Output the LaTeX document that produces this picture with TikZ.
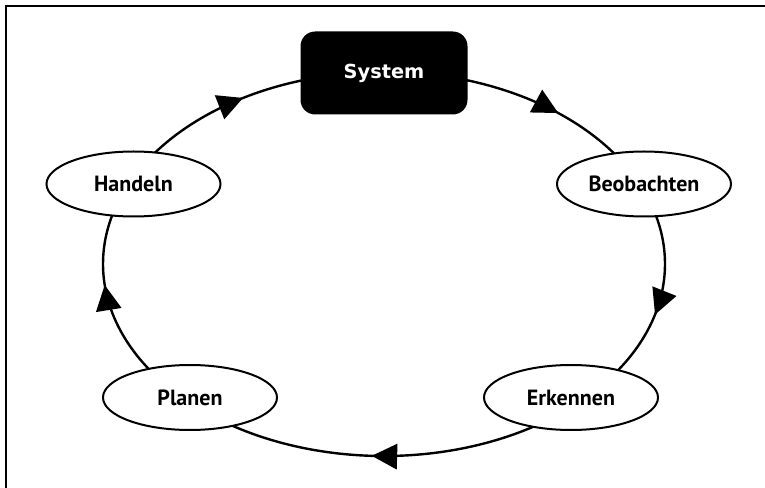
\documentclass[tikz,border=0pt]{standalone}
\usepackage{fontspec}
\setmainfont{PT Sans}
\newfontfamily\sysfont{DejaVu Sans}
\usetikzlibrary{shapes.geometric,arrows.meta,decorations.markings,backgrounds}
\begin{document}
\begin{tikzpicture}[x=0.75pt,y=0.75pt,
  stage/.style={ellipse, draw, line width=1.5pt, fill=white, inner sep=0pt,
    minimum width=130.5pt, minimum height=48.75pt,
    font=\bfseries\fontsize{16.5}{19}\selectfont},
  sysbox/.style={rectangle, rounded corners=11pt, fill=black, text=white,
    inner sep=0pt, minimum width=125.25pt, minimum height=62.25pt,
    font=\sysfont\bfseries\fontsize{14.5}{17}\selectfont},
  flow/.style={line width=1.8pt, postaction={decorate},
    decoration={markings, mark=at position #1 with {\arrow{Triangle[length=19pt,width=19pt]}}}},
  frameline/.style={line width=0.9pt}
]
\useasboundingbox (0,0) rectangle (765,-488);
\draw[frameline] (6,-488) -- (6,-6) -- (765,-6);

\node[sysbox] (sys) at (384,-73) {System};
\node[stage] (beo) at (644,-184) {Beobachten};
\node[stage] (erk) at (571,-397.5) {Erkennen};
\node[stage] (pla) at (190,-397.5) {Planen};
\node[stage] (han) at (133.5,-184) {Handeln};

\begin{scope}[on background layer]
\draw[flow=0.62] ([yshift=1]sys.center) arc[start angle=90, end angle=24, x radius=281, y radius=192];
\draw[flow=0.53] ([shift={(-3.3,-1.9)}]beo.center) arc[start angle=24, end angle=-46.5, x radius=281, y radius=192];
\draw[flow=0.53] ([shift={(6.4,-5.8)}]erk.center) arc[start angle=313.5, end angle=226.5, x radius=281, y radius=192];
\draw[flow=0.583] ([shift={(0.6,-5.8)}]pla.center) arc[start angle=226.5, end angle=155, x radius=281, y radius=192];
\draw[flow=0.50] ([shift={(-4.2,1.1)}]han.center) arc[start angle=155, end angle=90, x radius=281, y radius=192];
\end{scope}
\end{tikzpicture}
\end{document}
